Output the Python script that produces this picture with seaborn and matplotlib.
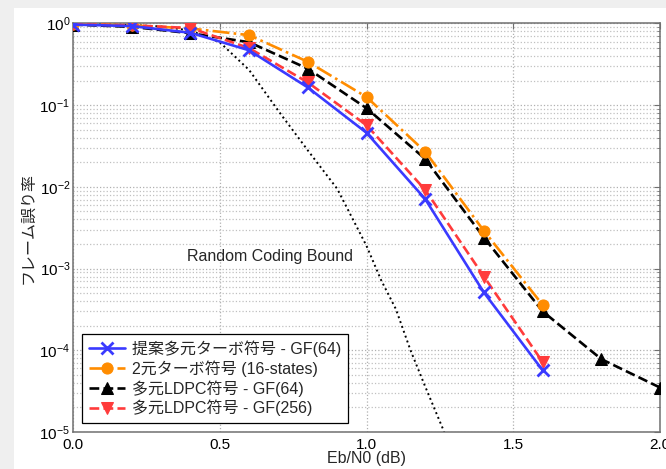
import numpy as np
import pandas as pd
import matplotlib
matplotlib.use("Agg")
import matplotlib.pyplot as plt
import seaborn as sns
from matplotlib.patches import Rectangle
from matplotlib.ticker import LogLocator, FuncFormatter, NullFormatter

# ---------------- data ----------------
ebn0_sim = [0.0, 0.2, 0.4, 0.6, 0.8, 1.0, 1.2, 1.4, 1.6]
fer_proposed_gf64 = [0.97, 0.93, 0.77, 0.47, 0.165, 0.046, 0.0071, 5.1e-4, 5.7e-5]
fer_binary_turbo = [0.98, 0.95, 0.87, 0.72, 0.34, 0.126, 0.027, 2.9e-3, 3.6e-4]
ebn0_ldpc64 = [0.0, 0.2, 0.4, 0.6, 0.8, 1.0, 1.2, 1.4, 1.6, 1.8, 2.0]
fer_ldpc_gf64 = [0.97, 0.91, 0.76, 0.59, 0.28, 0.092, 0.022, 2.4e-3, 3.0e-4, 7.8e-5, 3.5e-5]
fer_ldpc_gf256 = [0.98, 0.95, 0.88, 0.50, 0.19, 0.057, 0.0092, 8.0e-4, 7.2e-5]
ebn0_bound = [0.0, 0.1, 0.2, 0.3, 0.4, 0.5, 0.6, 0.7, 0.8, 0.9, 1.0, 1.05, 1.1, 1.15, 1.2, 1.26, 1.28]
fer_bound = [0.99, 0.98, 0.96, 0.92, 0.82, 0.59, 0.27, 0.085, 0.028, 0.0095, 0.0019,
             7.2e-4, 3.2e-4, 1.0e-4, 3.6e-5, 1.1e-5, 7e-6]

labels = ["提案多元ターボ符号 - GF(64)", "2元ターボ符号 (16-states)",
          "多元LDPC符号 - GF(64)", "多元LDPC符号 - GF(256)"]
xlabel = "Eb/N0 (dB)"
ylabel = "フレーム誤り率"
bound_text = "Random Coding Bound"
xticks = [0.0, 0.5, 1.0, 1.5, 2.0]

# ---------------- style ----------------
sns.set_style("white")
plt.rcParams['font.family'] = ['Liberation Sans', 'Noto Sans CJK JP', 'DejaVu Sans']
plt.rcParams['axes.unicode_minus'] = False

fig = plt.figure(figsize=(6.66, 4.69), dpi=100, facecolor="white")
# light gray border bands (top and left)
fig.patches.append(Rectangle((0, 0), 14 / 666, 1, transform=fig.transFigure,
                             facecolor="#efefef", edgecolor="none", zorder=-10))
fig.patches.append(Rectangle((0, 1 - 8 / 469), 1, 8 / 469, transform=fig.transFigure,
                             facecolor="#efefef", edgecolor="none", zorder=-10))

ax = fig.add_axes([73 / 666, 1 - 432 / 469, (660 - 73) / 666, (432 - 23.5) / 469])
ax.set_facecolor("white")

lw = 1.9
sns.lineplot(x=ebn0_bound, y=fer_bound, ax=ax, color="black", linestyle=":",
             linewidth=1.4, legend=False, zorder=2)
sns.lineplot(x=ebn0_ldpc64, y=fer_ldpc_gf64, ax=ax, color="black", linestyle="--",
             linewidth=lw, marker="^", markersize=9, markeredgecolor="black",
             label=labels[2], zorder=3)
sns.lineplot(x=ebn0_sim, y=fer_binary_turbo, ax=ax, color="#ff8c00", linestyle="-.",
             linewidth=lw, marker="o", markersize=8, markeredgecolor="#ff8c00",
             label=labels[1], zorder=3)
sns.lineplot(x=ebn0_sim, y=fer_ldpc_gf256, ax=ax, color="#ff3b3b", linestyle="--",
             linewidth=lw, marker="v", markersize=9, markeredgecolor="#ff3b3b",
             label=labels[3], zorder=4)
sns.lineplot(x=ebn0_sim, y=fer_proposed_gf64, ax=ax, color="#3a3aff", linestyle="-",
             linewidth=lw, marker="x", markersize=8, markeredgewidth=2,
             markeredgecolor="#3a3aff", label=labels[0], zorder=5)

ax.set_yscale("log")
ax.set_xlim(0, 2.0)
ax.set_ylim(1e-5, 1.0)

ax.set_xticks(xticks)
ax.xaxis.set_major_formatter(FuncFormatter(lambda v, p: f"{v:.1f}"))
ax.yaxis.set_major_locator(LogLocator(base=10, numticks=10))
ax.yaxis.set_minor_locator(LogLocator(base=10, subs=np.arange(2, 10), numticks=100))
ax.yaxis.set_minor_formatter(NullFormatter())
ax.yaxis.set_major_formatter(FuncFormatter(lambda v, p: r"$\mathregular{10^{%d}}$" % round(np.log10(v))))

ax.grid(True, which="major", axis="both", linestyle=":", color="#b0b0b0", linewidth=0.9)
ax.grid(True, which="minor", axis="y", linestyle=":", color="#c0c0c0", linewidth=0.9)
ax.set_axisbelow(True)

for s in ax.spines.values():
    s.set_color("#707070")
    s.set_linewidth(1.1)
ax.tick_params(axis="both", which="both", direction="in", top=True, right=True,
               color="#707070", labelsize=11, labelcolor="black")
ax.tick_params(which="major", length=4)
ax.tick_params(which="minor", length=2.5)
ax.tick_params(axis="x", pad=4)
ax.tick_params(axis="y", pad=2)

ax.set_xlabel(xlabel, fontsize=11.5, labelpad=-0.5)
ax.set_ylabel(ylabel, fontsize=11.5, labelpad=3)

ax.text(0.39, 1.4e-3, bound_text, fontsize=11.5, ha="left", va="center")

h, l = ax.get_legend_handles_labels()
hmap = dict(zip(l, h))
leg = ax.legend([hmap[x] for x in labels], labels, loc="lower left",
                bbox_to_anchor=(0.015, 0.022), borderaxespad=0, fontsize=11.5,
                frameon=True, fancybox=False, framealpha=1, edgecolor="black",
                handlelength=2.3, handletextpad=0.45, labelspacing=0.2,
                borderpad=0.42)
leg.get_frame().set_linewidth(0.9)

fig.savefig("out.png", dpi=100, facecolor=fig.get_facecolor())
